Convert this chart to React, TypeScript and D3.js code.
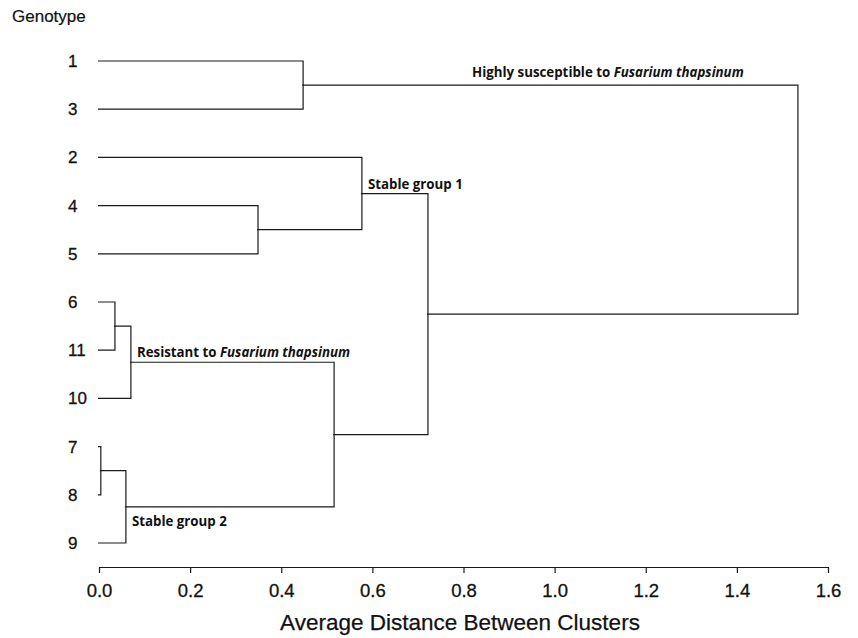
import React, { useEffect, useRef } from 'react';
import * as d3 from 'd3';

// leaf order top to bottom
const leaves = ['1', '3', '2', '4', '5', '6', '11', '10', '7', '8', '9'];

// merge steps: left child, right child, new cluster id, distance
const mergeLeft = ['1', '4', '2', '6', '6-11', '7', '7-8', '6-11-10', '2-4-5', '1-3'];
const mergeRight = ['3', '5', '4-5', '11', '10', '8', '9', '7-8-9', '6-11-10-7-8-9', '2-4-5-6-11-10-7-8-9'];
const mergeId = ['1-3', '4-5', '2-4-5', '6-11', '6-11-10', '7-8', '7-8-9', '6-11-10-7-8-9', '2-4-5-6-11-10-7-8-9', 'root'];
const mergeHeight = [0.448, 0.349, 0.577, 0.035, 0.07, 0.004, 0.059, 0.516, 0.722, 1.534];

const xTicks = [0, 0.2, 0.4, 0.6, 0.8, 1.0, 1.2, 1.4, 1.6];

// annotations attached to clusters
const noteCluster = ['1-3', '2-4-5', '6-11-10', '7-8-9'];
const notePlain = ['Highly susceptible to ', 'Stable group 1', 'Resistant to ', 'Stable group 2'];
const noteItalic = ['Fusarium thapsinum', '', 'Fusarium thapsinum', ''];

const W = 858;
const H = 638;

export default function App() {
  const ref = useRef<SVGSVGElement>(null);

  useEffect(() => {
    const svg = d3.select(ref.current);
    svg.selectAll('*').remove();

    const x = d3.scaleLinear().domain([0, 1.6]).range([99, 828]);
    const y = d3.scalePoint<string>().domain(leaves).range([61, 543]);

    const pos: Record<string, { h: number; y: number }> = {};
    leaves.forEach((l) => (pos[l] = { h: 0, y: y(l) as number }));

    const g = svg.append('g').attr('fill', 'none').attr('stroke', '#1a1a1a').attr('stroke-width', 1.2);

    mergeId.forEach((id, i) => {
      const a = pos[mergeLeft[i]];
      const b = pos[mergeRight[i]];
      const h = mergeHeight[i];
      const path = d3.path();
      path.moveTo(x(a.h) - 1, a.y);
      path.lineTo(x(h), a.y);
      path.lineTo(x(h), b.y);
      path.lineTo(x(b.h) - 1, b.y);
      g.append('path').attr('d', path.toString());
      pos[id] = { h, y: (a.y + b.y) / 2 };
    });

    const sans = 'Liberation Sans, Arial, sans-serif';

    // leaf labels
    svg
      .append('g')
      .selectAll('text')
      .data(leaves)
      .join('text')
      .attr('x', 68)
      .attr('y', (d) => (y(d) as number) + 6)
      .attr('font-family', sans)
      .attr('font-size', 17)
      .attr('fill', '#111')
      .attr('stroke', '#111')
      .attr('stroke-width', 0.3)
      .text((d) => d);

    svg
      .append('text')
      .attr('x', 12)
      .attr('y', 22)
      .attr('font-family', sans)
      .attr('font-size', 17)
      .attr('fill', '#111')
      .attr('stroke', '#111')
      .attr('stroke-width', 0.2)
      .text('Genotype');

    // annotations
    const notes = svg.append('g');
    noteCluster.forEach((c, i) => {
      const p = pos[c];
      const isBelow = c === '7-8-9';
      const t = notes
        .append('text')
        .attr('x', x(p.h) + 6)
        .attr('y', isBelow ? p.y + 19 : p.y - 5)
        .attr('font-family', 'Open Sans, Lato, sans-serif')
        .attr('font-weight', 'bold')
        .attr('font-size', 13.3)
        .attr('fill', '#111');
      if (c === '1-3') t.attr('x', 472).attr('y', p.y - 8);
      t.append('tspan').text(notePlain[i]);
      if (noteItalic[i]) t.append('tspan').attr('font-style', 'italic').text(noteItalic[i]);
    });

    // x axis
    const axis = svg
      .append('g')
      .attr('transform', 'translate(0,567)')
      .call(
        d3
          .axisBottom(x)
          .tickValues(xTicks)
          .tickFormat(d3.format('.1f'))
          .tickSize(6)
          .tickSizeOuter(0)
      );
    axis.select('.domain').attr('stroke', '#1a1a1a').attr('stroke-width', 1.2);
    axis.selectAll('.tick line').attr('stroke', '#1a1a1a').attr('stroke-width', 1.2);
    axis
      .selectAll('.tick text')
      .attr('font-family', sans)
      .attr('font-size', 18.5)
      .attr('fill', '#111')
      .attr('stroke', '#111')
      .attr('stroke-width', 0.3)
      .attr('y', 30)
      .attr('dy', 0);

    svg
      .append('text')
      .attr('x', 460)
      .attr('y', 630)
      .attr('text-anchor', 'middle')
      .attr('font-family', sans)
      .attr('font-size', 22.5)
      .attr('fill', '#111')
      .attr('stroke', '#111')
      .attr('stroke-width', 0.25)
      .text('Average Distance Between Clusters');
  }, []);

  return (
    <svg
      ref={ref}
      width={W}
      height={H}
      style={{ position: 'absolute', left: 0, top: 0, background: '#fff' }}
    />
  );
}
